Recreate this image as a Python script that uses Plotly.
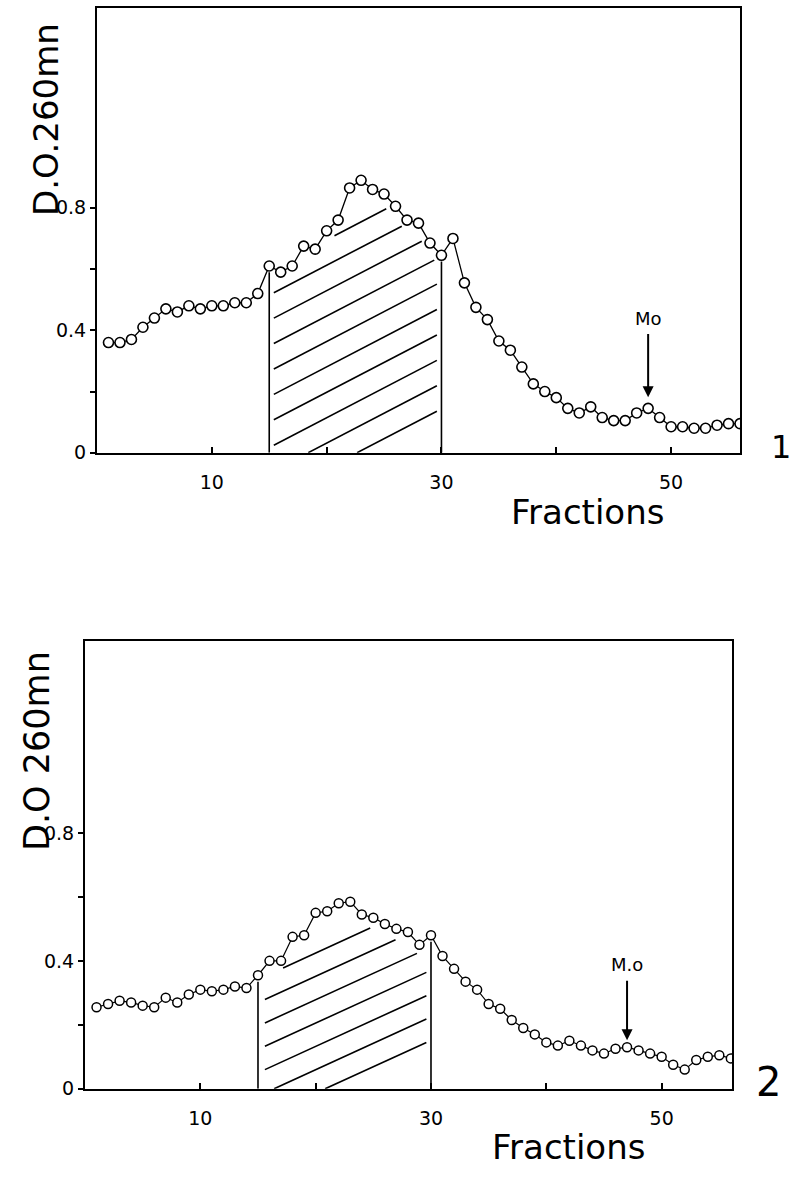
import numpy as np
import plotly.graph_objects as go

# ---------------- data ----------------
fractions = list(range(1, 57))
od_panel1 = [0.36, 0.36, 0.37, 0.41, 0.44, 0.47, 0.46, 0.48, 0.47, 0.48,
             0.48, 0.49, 0.49, 0.52, 0.61, 0.59, 0.61, 0.675, 0.665, 0.725,
             0.76, 0.865, 0.89, 0.86, 0.845, 0.805, 0.76, 0.75, 0.685, 0.645,
             0.70, 0.555, 0.475, 0.435, 0.365, 0.335, 0.28, 0.225, 0.20, 0.18,
             0.145, 0.13, 0.15, 0.115, 0.105, 0.105, 0.13, 0.145, 0.115, 0.085,
             0.085, 0.08, 0.08, 0.09, 0.095, 0.095]
od_panel2 = [0.255, 0.265, 0.275, 0.27, 0.26, 0.255, 0.285, 0.27, 0.295, 0.31,
             0.305, 0.31, 0.32, 0.315, 0.355, 0.40, 0.40, 0.475, 0.48, 0.55,
             0.555, 0.58, 0.585, 0.545, 0.535, 0.515, 0.50, 0.49, 0.45, 0.48,
             0.415, 0.375, 0.335, 0.31, 0.265, 0.25, 0.215, 0.19, 0.17, 0.145,
             0.135, 0.15, 0.135, 0.12, 0.11, 0.125, 0.13, 0.12, 0.11, 0.10,
             0.075, 0.06, 0.09, 0.10, 0.105, 0.095]
pooled_range = [15, 30]          # hatched fractions
marker_fraction = [48, 47]       # "Mo" arrow position per panel
marker_labels = ["Mo", "M.o"]
y_titles = ["D.O.260mn", "D.O 260mn"]
panel_labels = ["1", "2"]
x_tickvals = [10, 20, 30, 40, 50]
x_ticktext = ["10", "", "30", "", "50"]
y_tickvals = [0, 0.2, 0.4, 0.6, 0.8]
y_ticktext = ["0", "", "0.4", "", "0.8"]

FONT = "DejaVu Sans, sans-serif"
TICKFONT = "DejaVu Sans, sans-serif"


def hatch_trace(xs, ys, lo, hi, x0, x1, base, spacing, kmin, kmax, slope, gap,
                top_gap, xa, ya):
    grid = np.linspace(x0, x1, 1200)
    curve = np.interp(grid, xs, ys) - gap
    hx, hy = [], []
    for k in range(kmin, kmax + 1):
        c = base + k * spacing
        line = c + slope * (grid - lo)
        ok = (line >= 0) & (line <= curve)
        best, cur, start, bstart = 0, 0, 0, 0
        for i, v in enumerate(ok):
            if v:
                if cur == 0:
                    start = i
                cur += 1
                if cur > best:
                    best, bstart = cur, start
            else:
                cur = 0
        if best > 5:
            i0, i1 = bstart, bstart + best - 1
            hx += [grid[i0], grid[i1], None]
            hy += [line[i0], line[i1], None]
    for xv in (lo, hi):
        hx += [xv, xv, None]
        hy += [0, float(np.interp(xv, xs, ys)) - top_gap, None]
    return go.Scatter(x=hx, y=hy, mode="lines", xaxis=xa, yaxis=ya,
                      line=dict(color="black", width=1.6),
                      hoverinfo="skip", showlegend=False)


fig = go.Figure()

fig.add_trace(hatch_trace(fractions, od_panel1, pooled_range[0], pooled_range[1],
                          15.4, 29.6, 0.017, 0.083, -2, 7, 0.0195, 0.04, 0.02,
                          "x", "y"))
fig.add_trace(go.Scatter(x=fractions, y=od_panel1, mode="lines+markers",
                         xaxis="x", yaxis="y", showlegend=False,
                         line=dict(color="black", width=1.3),
                         marker=dict(symbol="circle", size=10, color="white",
                                     line=dict(color="black", width=1.6))))

fig.add_trace(hatch_trace(fractions, od_panel2, pooled_range[0], pooled_range[1],
                          15.6, 29.6, 0.05, 0.073, -2, 4, 0.0165, 0.035, 0.02,
                          "x2", "y2"))
fig.add_trace(go.Scatter(x=fractions, y=od_panel2, mode="lines+markers",
                         xaxis="x2", yaxis="y2", showlegend=False,
                         line=dict(color="black", width=1.2),
                         marker=dict(symbol="circle", size=9, color="white",
                                     line=dict(color="black", width=1.5))))

W, H = 796, 1184

axis_common = dict(showline=True, linecolor="black", linewidth=2, mirror=True,
                   showgrid=False, zeroline=False,
                   tickfont=dict(family=TICKFONT, size=19, color="black"))

xa = dict(axis_common, tickvals=x_tickvals, ticktext=x_ticktext, ticks="inside",
          ticklen=6, tickwidth=1.5, tickcolor="black", ticklabelstandoff=11)
ya = dict(axis_common, tickvals=y_tickvals, ticktext=y_ticktext, ticks="outside",
          ticklen=5, tickwidth=1.5, tickcolor="black")

fig.update_layout(
    width=W, height=H,
    margin=dict(l=0, r=0, t=0, b=0),
    paper_bgcolor="white", plot_bgcolor="white",
    xaxis=dict(xa, domain=[97 / W, 740 / W], range=[0, 56], anchor="y"),
    yaxis=dict(ya, domain=[1 - 457 / H, 1 - 8 / H], range=[0, 1.453], anchor="x"),
    xaxis2=dict(xa, domain=[85 / W, 732 / W], range=[0, 56.1], anchor="y2"),
    yaxis2=dict(ya, domain=[1 - 1099 / H, 1 - 647 / H], range=[0, 1.40], anchor="x2"),
)


def label(text, px, py, size, angle=0):
    return dict(text=text, x=px / W, y=1 - py / H, xref="paper", yref="paper",
                xanchor="center", yanchor="middle", textangle=angle,
                showarrow=False, font=dict(family=FONT, size=size, color="black"))


ann = [
    label(y_titles[0], 46, 121, 34, -90),
    label(y_titles[1], 37, 758, 35, -90),
    label("Fractions", 587, 517, 34),
    label("Fractions", 568, 1158, 34),
    label(panel_labels[0], 781, 451, 32),
    label(panel_labels[1], 768, 1092, 40),
]

# Mo arrows
for i, (xr, yr, series, tip_off, txt_off) in enumerate(
        [("x", "y", od_panel1, 0.036, 0.295), ("x2", "y2", od_panel2, 0.022, 0.258)]):
    f = marker_fraction[i]
    yv = series[f - 1]
    ann.append(dict(text=marker_labels[i], x=f, y=yv + tip_off, xref=xr, yref=yr,
                    ax=f, ay=yv + txt_off, axref=xr, ayref=yr,
                    xanchor="center", yanchor="middle",
                    showarrow=True, arrowhead=2, arrowsize=1.1, arrowwidth=2,
                    arrowcolor="black", standoff=0, startstandoff=4,
                    font=dict(family=TICKFONT, size=18, color="black")))

fig.update_layout(annotations=ann)

fig.write_html("out.html")
